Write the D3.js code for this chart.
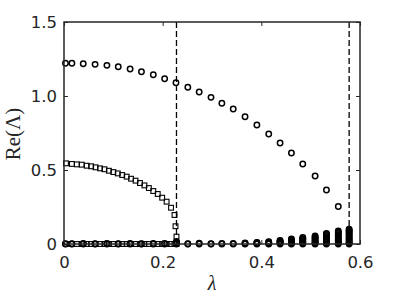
<!DOCTYPE html>
<html>
<head>
<meta charset="utf-8">
<script src="https://cdn.jsdelivr.net/npm/d3@7"></script>
<style>
  body { margin: 0; background: #fff; }
  svg { display: block; }
</style>
</head>
<body>
<svg id="chart" width="399" height="299"></svg>
<script>
// upper branch (circles)
var circLam = [0.003, 0.016, 0.039, 0.063, 0.087, 0.110, 0.134, 0.157, 0.181, 0.204, 0.227, 0.251, 0.274,
  0.298, 0.320, 0.343, 0.367, 0.391, 0.415, 0.438, 0.461, 0.484, 0.509, 0.532, 0.556];
var circVal = [1.221, 1.221, 1.218, 1.214, 1.207, 1.198, 1.182, 1.164, 1.144, 1.117, 1.090, 1.059, 1.027,
  0.991, 0.951, 0.912, 0.860, 0.804, 0.743, 0.682, 0.615, 0.541, 0.459, 0.365, 0.253];

// lower branch (squares)
var sqLam = [0.004, 0.016, 0.026, 0.036, 0.046, 0.055, 0.064, 0.073, 0.082, 0.091, 0.100, 0.109, 0.118,
  0.127, 0.136, 0.145, 0.154, 0.163, 0.172, 0.181, 0.190, 0.199, 0.208, 0.217, 0.224, 0.226, 0.228];
var sqVal = [0.545, 0.541, 0.538, 0.536, 0.529, 0.525, 0.518, 0.511, 0.505, 0.495, 0.486, 0.477, 0.466,
  0.455, 0.441, 0.428, 0.412, 0.396, 0.378, 0.358, 0.338, 0.313, 0.286, 0.245, 0.196, 0.120, 0.050];

// eigenvalues close to zero, one list per lambda
var lowLam = [0.003, 0.016, 0.039, 0.063, 0.087, 0.110, 0.134, 0.157, 0.181, 0.204, 0.228, 0.251, 0.274,
  0.298, 0.320, 0.343, 0.367, 0.391, 0.415, 0.438, 0.461, 0.484, 0.509, 0.532, 0.556, 0.578];
var lowVal = [
  [0, 0.002], [0, 0.002], [0, 0.003], [0, 0.002], [0, 0.003], [0, 0.002], [0, 0.003], [0, 0.002],
  [0, 0.003], [0, 0.004], [0, 0.003, 0.006, 0.009, 0.012, 0.015], [0, 0.002], [0, 0.005], [0, 0.002],
  [0, 0.004], [0, 0.003], [0, 0.004, 0.007], [0, 0.004, 0.008, 0.011],
  [0, 0.004, 0.008, 0.012, 0.016], [0, 0.005, 0.01, 0.015, 0.02, 0.024],
  [0, 0.005, 0.01, 0.016, 0.022, 0.028, 0.034], [0, 0.006, 0.012, 0.018, 0.025, 0.032, 0.038, 0.044],
  [0, 0.006, 0.012, 0.018, 0.025, 0.032, 0.04, 0.047, 0.054],
  [0, 0.006, 0.012, 0.019, 0.026, 0.034, 0.042, 0.05, 0.058, 0.065, 0.071],
  [0, 0.006, 0.013, 0.02, 0.028, 0.036, 0.045, 0.054, 0.063, 0.072, 0.08, 0.088],
  [0, 0.006, 0.013, 0.02, 0.028, 0.036, 0.045, 0.054, 0.063, 0.072, 0.08, 0.088, 0.094, 0.1]
];

var critLam = [0.228, 0.578];
var xTicks = [0, 0.2, 0.4, 0.6];
var yTicks = [0, 0.5, 1.0, 1.5];

var ink = "#262626";
var svg = d3.select("#chart");

var x = d3.scaleLinear().domain([0, 0.6]).range([64, 360]);
var y = d3.scaleLinear().domain([0, 1.5]).range([244, 22]);

var fmt = function(d) { return d === 0 ? "0" : d3.format(".1f")(d); };

// dashed critical lines
svg.selectAll("line.crit")
  .data(critLam)
  .enter()
  .append("line")
  .attr("x1", function(d) { return x(d); })
  .attr("x2", function(d) { return x(d); })
  .attr("y1", y(1.5))
  .attr("y2", y(0))
  .attr("stroke", "#000")
  .attr("stroke-width", 1.3)
  .attr("stroke-dasharray", "6,3");

// points
var g = svg.append("g");

var zeroSq = sqLam.map(function(l) { return { l: l, v: 0 }; });
g.selectAll("rect.zero")
  .data(zeroSq)
  .enter()
  .append("rect")
  .attr("x", function(d) { return x(d.l) - 2.4; })
  .attr("y", function(d) { return y(d.v) - 2.4; })
  .attr("width", 4.8)
  .attr("height", 4.8)
  .attr("fill", "none")
  .attr("stroke", "#000")
  .attr("stroke-width", 1.1);

var low = [];
lowLam.forEach(function(l, i) {
  lowVal[i].forEach(function(v) { low.push({ l: l, v: v }); });
});
g.selectAll("circle.low")
  .data(low)
  .enter()
  .append("circle")
  .attr("cx", function(d) { return x(d.l); })
  .attr("cy", function(d) { return y(d.v); })
  .attr("r", 2.7)
  .attr("fill", "none")
  .attr("stroke", "#000")
  .attr("stroke-width", 1.5);

g.selectAll("rect.sq")
  .data(sqLam)
  .enter()
  .append("rect")
  .attr("x", function(d) { return x(d) - 2.4; })
  .attr("y", function(d, i) { return y(sqVal[i]) - 2.4; })
  .attr("width", 4.8)
  .attr("height", 4.8)
  .attr("fill", "none")
  .attr("stroke", "#000")
  .attr("stroke-width", 1.1);

g.selectAll("circle.up")
  .data(circLam)
  .enter()
  .append("circle")
  .attr("cx", function(d) { return x(d); })
  .attr("cy", function(d, i) { return y(circVal[i]); })
  .attr("r", 2.7)
  .attr("fill", "none")
  .attr("stroke", "#000")
  .attr("stroke-width", 1.5);

// axes
function styleAxis(sel) {
  sel.select(".domain").remove();
  sel.selectAll("line").attr("stroke", ink).attr("stroke-width", 1);
  sel.selectAll("text")
    .attr("fill", ink)
    .style("font-family", "DejaVu Sans")
    .style("font-size", "16.5px");
}

svg.append("g")
  .attr("transform", "translate(0,244)")
  .call(d3.axisBottom(x).tickValues(xTicks).tickFormat(fmt).tickSizeInner(-4).tickSizeOuter(0).tickPadding(12))
  .call(styleAxis);
svg.append("g")
  .attr("transform", "translate(0,22)")
  .call(d3.axisTop(x).tickValues(xTicks).tickFormat("").tickSizeInner(-4).tickSizeOuter(0))
  .call(styleAxis);
svg.append("g")
  .attr("transform", "translate(64,0)")
  .call(d3.axisLeft(y).tickValues(yTicks).tickFormat(fmt).tickSizeInner(-4).tickSizeOuter(0).tickPadding(7))
  .call(styleAxis);
svg.append("g")
  .attr("transform", "translate(360,0)")
  .call(d3.axisRight(y).tickValues(yTicks).tickFormat("").tickSizeInner(-4).tickSizeOuter(0))
  .call(styleAxis);

svg.append("rect")
  .attr("x", 64)
  .attr("y", 22)
  .attr("width", 296)
  .attr("height", 222)
  .attr("fill", "none")
  .attr("stroke", ink)
  .attr("stroke-width", 1.5);

// labels
svg.append("text")
  .attr("transform", "translate(20,134) rotate(-90)")
  .attr("text-anchor", "middle")
  .style("font-family", "Liberation Serif")
  .style("font-size", "21px")
  .attr("fill", ink)
  .text("Re(Λ)");

svg.append("text")
  .attr("x", 212)
  .attr("y", 290)
  .attr("text-anchor", "middle")
  .style("font-family", "Liberation Serif")
  .style("font-style", "italic")
  .style("font-size", "20px")
  .attr("fill", ink)
  .text("λ");
</script>
</body>
</html>
